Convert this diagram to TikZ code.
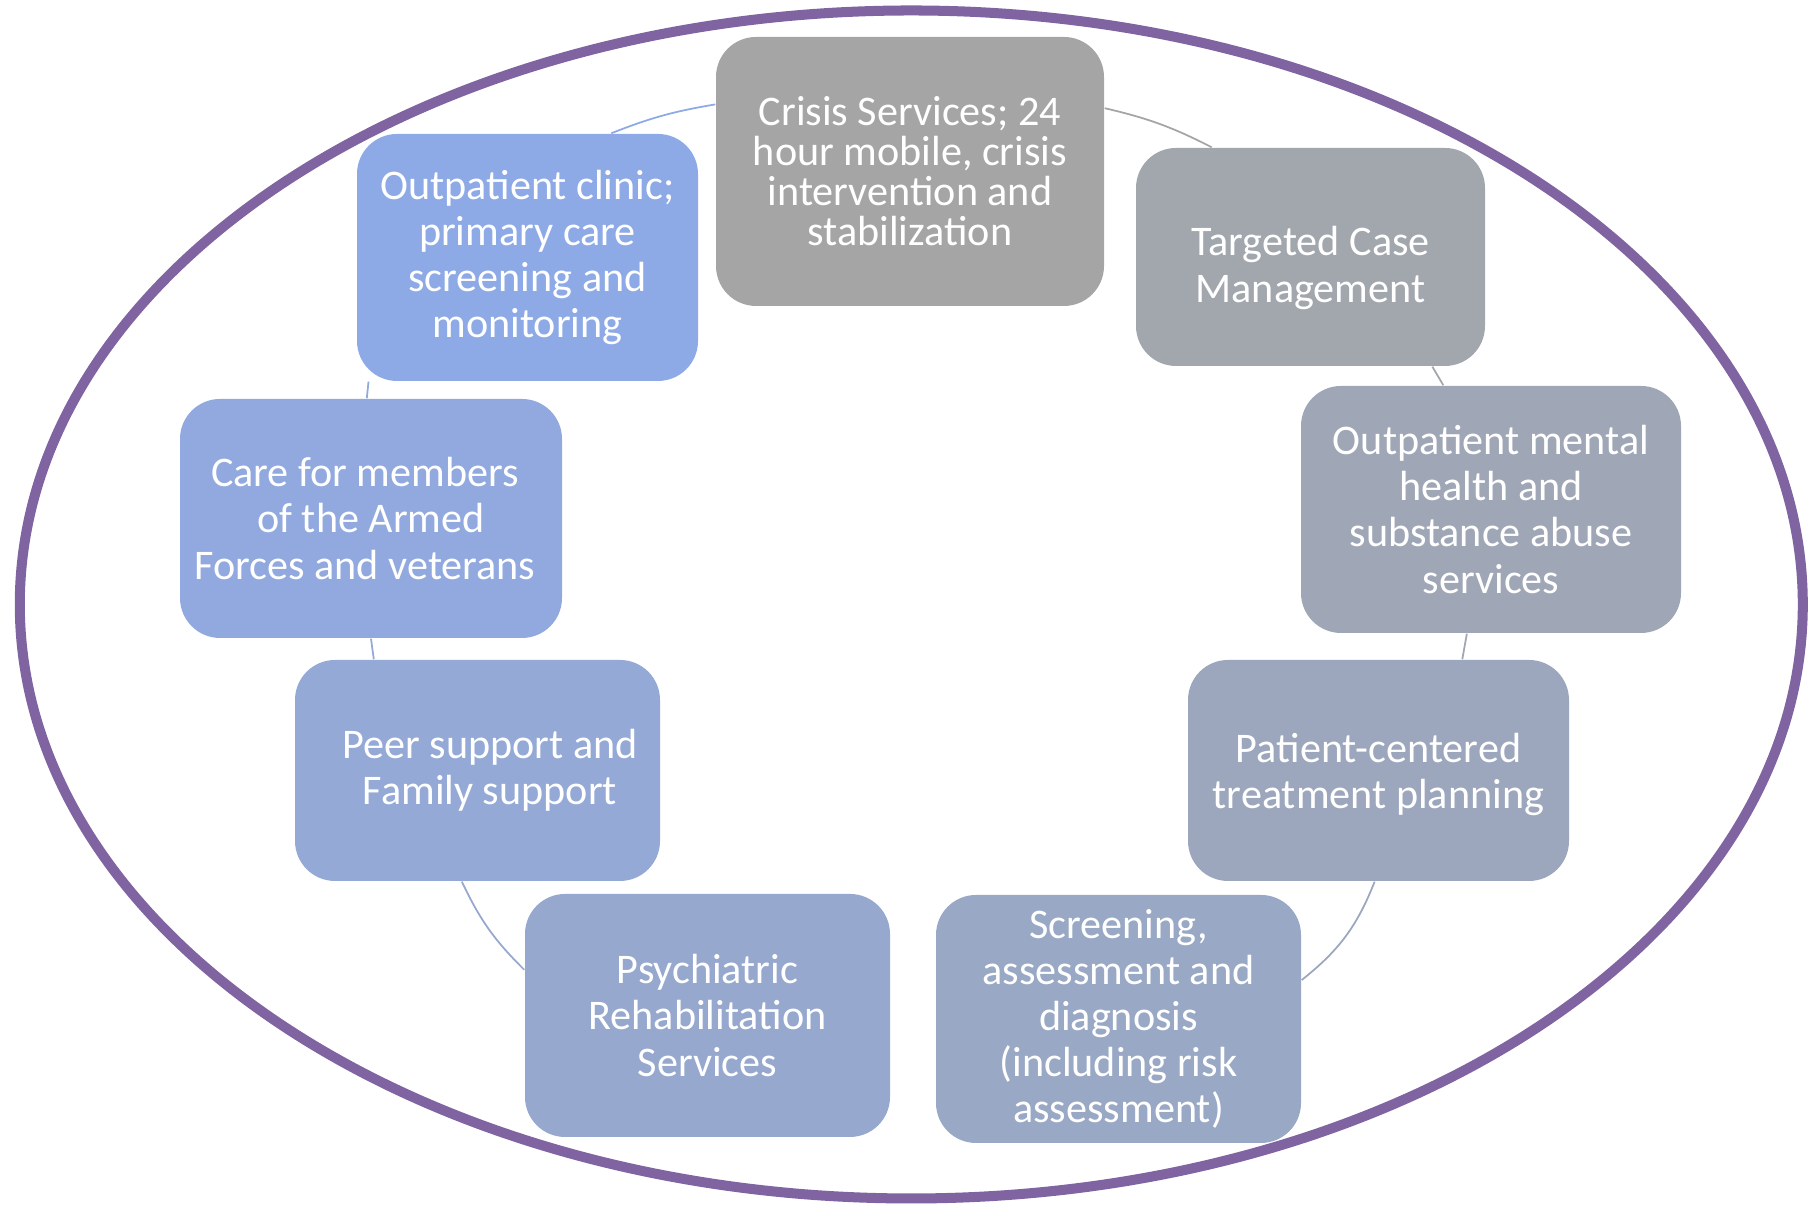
\documentclass[tikz,border=0pt]{standalone}
\usepackage{fontspec}
\setmainfont{Carlito}
\definecolor{crisisgray}{HTML}{A5A5A5}
\definecolor{clinicblue}{HTML}{8EAAE6}
\definecolor{ringpurple}{HTML}{8064A2}

\begin{document}
\begin{tikzpicture}[
    svc/.style={rectangle, rounded corners=0.4cm, fill=#1, text=white, align=center,
      inner sep=0pt, font=\fontsize{12}{13.1}\selectfont},
    link/.style={draw=#1, line width=0.5pt}
  ]
  \useasboundingbox (0,0) rectangle (18.09,12.05);
  % Outer ring
  \draw[ringpurple, line width=2.85pt] (9.113,6.005) ellipse (8.915 and 5.94);
  % Services, clockwise from the top
  \node[svc=crisisgray, minimum width=3.88cm, minimum height=2.69cm,
    font=\fontsize{12}{11.4}\selectfont] (crisis) at (9.10,10.335)
    {Crisis Services; 24\\hour mobile, crisis\\intervention and\\stabilization};
  \node[svc=clinicblue!12.5!crisisgray, minimum width=3.49cm, minimum height=2.18cm]
    (tcm) at (13.105,9.48) {\rule{0pt}{14.6pt}Targeted Case\\Management};
  \node[svc=clinicblue!25!crisisgray, minimum width=3.80cm, minimum height=2.47cm]
    (omh) at (14.91,6.955) {Outpatient mental\\health and\\substance abuse\\services};
  \node[svc=clinicblue!37.5!crisisgray, minimum width=3.81cm, minimum height=2.21cm]
    (patient) at (13.785,4.345) {\rule{0pt}{10.4pt}Patient-centered\\treatment planning};
  \node[svc=clinicblue!50!crisisgray, minimum width=3.65cm, minimum height=2.48cm]
    (screen) at (11.185,1.86) {Screening,\\assessment and\\diagnosis\\(including risk\\assessment)};
  \node[svc=clinicblue!62.5!crisisgray, minimum width=3.65cm, minimum height=2.43cm]
    (psych) at (7.075,1.895) {Psychiatric\\Rehabilitation\\Services};
  \node[svc=clinicblue!75!crisisgray, minimum width=3.65cm, minimum height=2.21cm]
    (peer) at (4.775,4.345) {\hspace*{0.25cm}Peer support and\\\hspace*{0.25cm}Family support};
  \node[svc=clinicblue!87.5!crisisgray, minimum width=3.82cm, minimum height=2.39cm]
    (care) at (3.71,6.865)
    {Care for members\hspace*{0.12cm}\\of the Armed\hspace*{0.12cm}\\Forces and veterans\hspace*{0.12cm}};
  \node[svc=clinicblue, minimum width=3.41cm, minimum height=2.47cm]
    (clinic) at (5.275,9.475) {Outpatient clinic;\\primary care\\screening and\\monitoring};
  % Cycle links
  \draw[link=crisisgray] (crisis.18) to[bend left=7] (tcm.132);
  \draw[link=clinicblue!12.5!crisisgray] (tcm.-42) -- (omh.111);
  \draw[link=clinicblue!25!crisisgray] (omh.-101) -- (patient.53);
  \draw[link=clinicblue!37.5!crisisgray] (patient.-92) to[bend left=15] (screen.12);
  \draw[link=clinicblue!62.5!crisisgray] (psych.166) to[bend left=10] (peer.-98);
  \draw[link=clinicblue!75!crisisgray] (peer.133) -- (care.-90);
  \draw[link=clinicblue!87.5!crisisgray] (care.92) -- (clinic.218);
  \draw[link=clinicblue] (clinic.56) to[bend left=6] (crisis.161);
\end{tikzpicture}
\end{document}
